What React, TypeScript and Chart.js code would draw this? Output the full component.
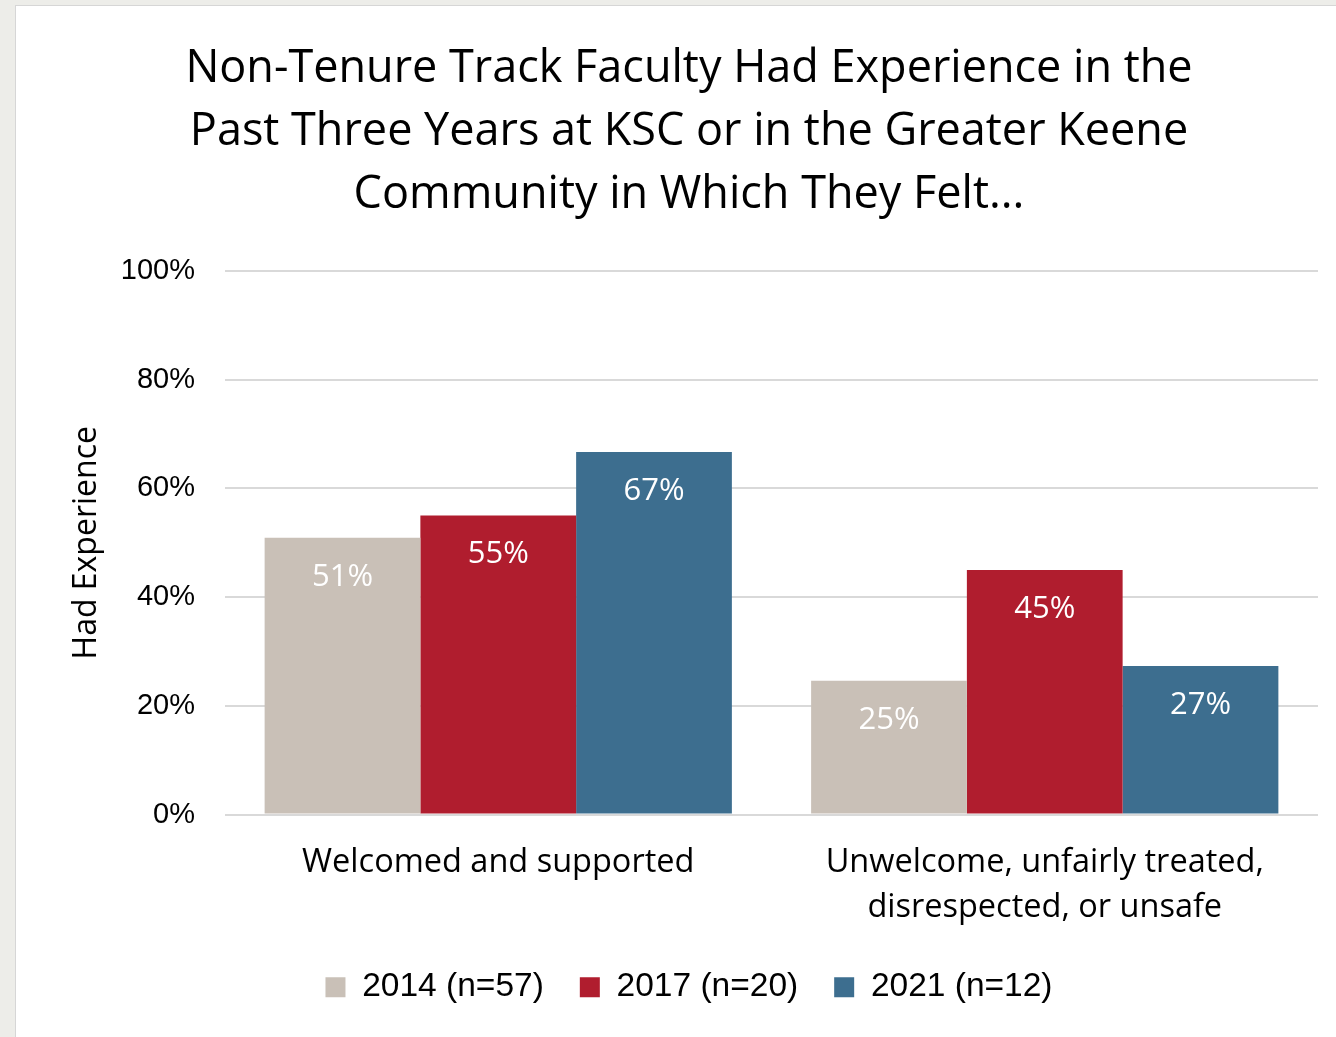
import React, { useEffect, useRef } from "react";
import { Chart, registerables } from "chart.js";

Chart.register(...registerables);

const titleLines = [
  "Non-Tenure Track Faculty Had Experience in the",
  "Past Three Years at KSC or in the Greater Keene",
  "Community in Which They Felt...",
];
const categories = [
  ["Welcomed and supported"],
  ["Unwelcome, unfairly treated,", "disrespected, or unsafe"],
];
const seriesNames = ["2014 (n=57)", "2017 (n=20)", "2021 (n=12)"];
const values2014 = [50.9, 24.6];
const values2017 = [55.0, 45.0];
const values2021 = [66.7, 27.3];
const seriesColors = ["#C9C0B7", "#B01D2E", "#3D6E8F"];
const yTicks = [0, 20, 40, 60, 80, 100];

const FONT = "'Open Sans', 'Noto Sans', sans-serif";

const valueLabels = {
  id: "valueLabels",
  afterDatasetsDraw(chart: any) {
    const ctx = chart.ctx;
    ctx.save();
    ctx.font = `31px ${FONT}`;
    ctx.fillStyle = "#FFFFFF";
    ctx.textAlign = "center";
    ctx.textBaseline = "middle";
    chart.data.datasets.forEach((ds: any, i: number) => {
      const meta = chart.getDatasetMeta(i);
      meta.data.forEach((bar: any, j: number) => {
        const v = ds.data[j];
        ctx.fillText(`${Math.round(v)}%`, bar.x, bar.y + 39);
      });
    });
    ctx.restore();
  },
};

export default function App() {
  const ref = useRef<HTMLCanvasElement | null>(null);
  useEffect(() => {
    if (!ref.current) return;
    const chart = new Chart(ref.current, {
      type: "bar",
      data: {
        labels: categories as any,
        datasets: [values2014, values2017, values2021].map((d, i) => ({
          label: seriesNames[i],
          data: d,
          backgroundColor: seriesColors[i],
          borderWidth: 0,
          barPercentage: 1,
          categoryPercentage: 0.855,
        })),
      },
      options: {
        animation: false,
        responsive: false,
        maintainAspectRatio: false,
        layout: { padding: { left: 60, right: 18, top: 0, bottom: 23 } },
        plugins: {
          title: {
            display: true,
            text: titleLines,
            color: "#000000",
            font: { family: FONT, size: 45, weight: "normal", lineHeight: 1.4 },
            padding: { top: 38, bottom: 44 },
          },
          legend: {
            position: "bottom",
            labels: {
              boxWidth: 20,
              boxHeight: 20,
              padding: 36,
              color: "#000000",
              font: { family: "'Liberation Sans', Arial, sans-serif", size: 33.5 },
            },
          },
          tooltip: { enabled: false },
        },
        scales: {
          x: {
            grid: { display: false, drawTicks: false },
            border: { display: false },
            ticks: {
              color: "#000000",
              padding: 26,
              font: { family: FONT, size: 32.5, lineHeight: 1.385 },
              maxRotation: 0,
              autoSkip: false,
            },
            afterFit(scale: any) {
              scale.height = 120;
            },
          },
          y: {
            min: 0,
            max: 100,
            afterBuildTicks(scale: any) {
              scale.ticks = yTicks.map((v) => ({ value: v }));
            },
            grid: { color: "#D9D9D9", lineWidth: 2, drawTicks: false },
            border: { display: false },
            ticks: {
              color: "#000000",
              padding: 30,
              font: { family: "'Liberation Sans', Arial, sans-serif", size: 29 },
              callback: (v: any) => `${v}%`,
            },
            title: {
              display: true,
              text: "Had Experience",
              color: "#000000",
              font: { family: FONT, size: 32 },
              padding: { top: 8, bottom: 0 },
            },
            afterFit(scale: any) {
              scale.width = 165;
            },
          },
        },
      },
      plugins: [valueLabels],
    });
    return () => chart.destroy();
  }, []);

  return (
    <div style={{ position: "fixed", left: 0, top: 0, width: 1336, height: 1037, background: "#EDEDE9", overflow: "hidden" }}>
      <div style={{ position: "absolute", left: 15, top: 5, width: 1321, height: 1032, background: "#FFFFFF", borderLeft: "1px solid #D6D6D6", borderTop: "1px solid #D6D6D6", boxSizing: "border-box" }} />
      <canvas ref={ref} width={1336} height={1037} style={{ position: "absolute", left: 0, top: 0, width: 1336, height: 1037 }} />
    </div>
  );
}
